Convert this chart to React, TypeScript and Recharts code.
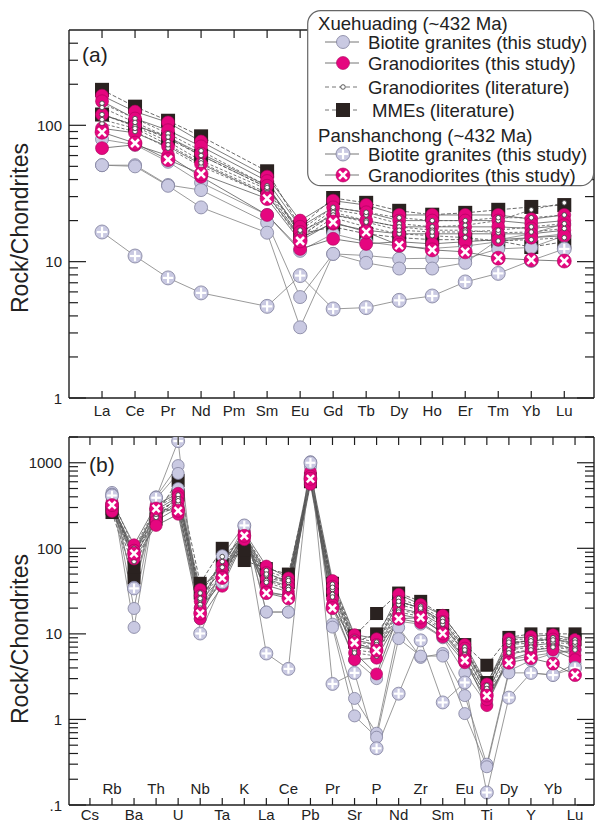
import React from 'react'
import { LineChart, Line, XAxis, YAxis, Legend } from 'recharts'

// ---- categories ----
const REE = ['La', 'Ce', 'Pr', 'Nd', 'Pm', 'Sm', 'Eu', 'Gd', 'Tb', 'Dy', 'Ho', 'Er', 'Tm', 'Yb', 'Lu']
const SPIDER = ['Cs', 'Rb', 'Ba', 'Th', 'U', 'Nb', 'Ta', 'K', 'La', 'Ce', 'Pb', 'Pr', 'Sr', 'P', 'Nd', 'Zr', 'Sm', 'Eu', 'Ti', 'Dy', 'Y', 'Yb', 'Lu']

// ---- (a) chondrite-normalised REE ----
const reeMME = [
  [182, 137, 108, 83, null, 46, 18, 29.3, 27, 23.6, 22.1, 22.8, 24, 25.2, 26],
  [120, 100, 80, 60, null, 35, 16, 18, 16, 15, 14.5, 14.5, 14.2, 12.8, 14],
]
const reeBiotite = [
  [79, 72, 54, 38, null, 22, 12, 16, 14, 13, 12.5, 13, 14, 15, 16],
  [51, 51, 36.5, 33.5, null, 19.3, 5.5, 11.4, 11.1, 10.5, 10.6, 10.5, 12.4, 12.7, 15.5],
  [51, 50, 36, 25, null, 16.3, 3.3, 11.4, 9.8, 8.9, 8.9, 9.8, 14.5, 16, 19],
]
const reeGranodiorite = [
  [165, 126, 105, 76, null, 42, 20, 28, 26, 22, 22, 22, 22, 20.5, 22],
  [150, 112, 92, 70, null, 39, 18, 25, 23, 20, 20, 20, 20, 19, 20],
  [120, 100, 82, 62, null, 36, 16.5, 22, 20, 18, 18, 18, 18, 17.5, 18.5],
  [95, 88, 70, 52, null, 31, 15, 19, 17, 16, 16, 16, 16, 16, 17],
  [68, 72, 60, 42, null, 22, 12.4, 14.7, 13.5, 14, 13.5, 14, 14.5, 15, 15.5],
]
const reeLiterature = [
  [145, 112, 87, 65, null, 36, 16, 24, 22, 19, 18, 18.5, 20, 24, 27],
  [120, 98, 76, 55, null, 34, 15, 23, 20, 18, 17, 17, 16.3, 16.5, 17.5],
  [103, 90, 68, 50, null, 31, 14.5, 21, 18, 16, 15.5, 15, 14.2, 14.5, 15],
  [135, 105, 82, 60, null, 35, 17, 25, 23, 21, 20, 20, 21, 21, 22],
  [110, 95, 72, 53, null, 32, 15.5, 22, 19.5, 17, 16.5, 16.5, 17, 18, 19],
]
const reePsBiotite = [[16.5, 11, 7.6, 5.9, null, 4.7, 7.9, 4.5, 4.6, 5.2, 5.6, 7.1, 8.2, 10.2, 12.4]]
const reePsGranodiorite = [[89, 74, 56, 44, null, 29, 14.2, 19.5, 16.5, 13.2, 12.2, 11.8, 10.6, 10.3, 10.1]]

// ---- (b) trace element spider ----
const spMME = [
  [null, 262, 45, 250, 620, 39, 100, 72, 58, 50, 650, 39, 9.5, 17.3, 30, 24, 16.4, 7.5, 4.3, 9.1, 10, 10, 10],
  [null, 290, 60, 220, 420, 30, 65, 95, 45, 40, 600, 32, 8, 10, 24, 20, 13, 6, 2.7, 7.5, 8.5, 8.5, 8.5],
]
const spBiotite = [
  [null, 400, 35, 300, 500, 20, 50, 160, 30, 28, 700, 20, 5, 3, 14, 13, 9, 3.5, 1.5, 5, 5.5, 6, 6.5],
  [null, 450, 19.8, 400, 927, 18, 82, 185, 18, 18, 1030, 13, 1.76, 0.69, 11.9, 5.3, 5.9, 1.9, 0.3, 3.7, 4.9, 5.9, 6.4],
  [null, 430, 11.9, 380, 750, 15, 60, 180, 18, 18, 900, 12, 1.1, 0.62, 8.8, 5.5, 5.5, 1.17, 0.28, 3.5, 3.5, 3.3, 4.5],
]
const spGranodiorite = [
  [null, 350, 110, 320, 440, 33, 64, 155, 62, 45, 780, 42, 9.8, 8.8, 29, 22, 16.5, 7.5, 2.6, 8.8, 9.3, 9.8, 8.6],
  [null, 320, 95, 280, 400, 28, 55, 145, 52, 40, 700, 36, 8.5, 7.5, 24, 20, 14, 6.8, 2.3, 7.8, 8.3, 8.7, 7.6],
  [null, 300, 88, 240, 350, 24, 47, 140, 44, 36, 640, 31, 7.2, 6.5, 20, 17.5, 12.5, 6, 2, 6.8, 7.3, 7.8, 6.6],
  [null, 280, 80, 210, 300, 20, 40, 132, 37, 31, 600, 26, 6, 3.4, 17, 15, 10.5, 5.2, 1.45, 5.8, 6.4, 6.9, 5.6],
  [null, 270, 75, 185, 250, 15, 36, 126, 31, 28, 560, 22, 5, 5.2, 15, 13.5, 9.2, 4.6, 1.7, 5, 6, 6.5, 5],
]
const spLiterature = [
  [null, 380, 100, 300, 420, 30, 70, 150, 55, 44, 720, 38, 9, 8, 26, 21, 15, 7, 2.5, 8.5, 8.8, 9, 8.5],
  [null, 330, 90, 260, 380, 25, 60, 140, 48, 40, 660, 33, 7.5, 7, 22, 19, 13, 6.3, 2.2, 7.5, 7.8, 8, 7.5],
  [null, 300, 80, 230, 330, 22, 80, 135, 42, 35, 620, 29, 6.5, 6, 19, 17, 11.5, 5.7, 2, 6.5, 7, 7.2, 6.8],
  [null, 350, 70, 270, 360, 26, 50, 145, 50, 42, 680, 35, 8, 7.5, 24, 20, 14, 6.5, 2.3, 8, 8.3, 8.5, 8],
  [null, 310, 85, 250, 300, 20, 45, 130, 40, 33, 600, 27, 6, 5.5, 18, 16, 11, 5.3, 1.8, 6, 6.5, 7, 6.5],
]
const spPsBiotite = [[null, 414, 34, 390, 1790, 10.1, 40, 185, 5.9, 3.9, 1000, 2.6, 3.5, 0.46, 2, 8.4, 1.58, 2.7, 0.14, 1.8, 3.5, 3.3, 4]]
const spPsGranodiorite = [[null, 320, 87, 292, 275, 17.3, 45, 140, 30, 26, 650, 20, 7.9, 6.4, 15, 15.5, 10.1, 4.9, 1.9, 4.6, 5.2, 4.5, 3.3]]

// ---- ticks ----
const reeTicks = [1, 2, 3, 4, 5, 6, 7, 8, 9, 10, 20, 30, 40, 50, 60, 70, 80, 90, 100, 200, 300, 400]
const reeMajors = [1, 10, 100]
const spTicks = [0.1, 0.2, 0.3, 0.4, 0.5, 0.6, 0.7, 0.8, 0.9, 1, 2, 3, 4, 5, 6, 7, 8, 9, 10, 20, 30, 40, 50, 60, 70, 80, 90,
  100, 200, 300, 400, 500, 600, 700, 800, 900, 1000, 2000]
const spMajors = [0.1, 1, 10, 100, 1000]

const FONT = '"Liberation Sans", Arial, sans-serif'
const AX = '#1e1e1e'
const LAV = '#c9c9e2'
const LAV_EDGE = '#7f7f9c'
const MAG = '#e5067f'
const MAG_EDGE = '#a8035b'
const BLACK = '#2a2220'

type Kind = 'mme' | 'bg' | 'gd' | 'lit' | 'psbg' | 'psgd'

const lineStyle: Record<Kind, { stroke: string; dash?: string }> = {
  mme: { stroke: '#444', dash: '4 2' },
  bg: { stroke: '#808080' },
  gd: { stroke: '#5a5a5a' },
  lit: { stroke: '#555', dash: '3 2' },
  psbg: { stroke: '#808080' },
  psgd: { stroke: '#5a5a5a' },
}

function Marker({ kind, cx, cy, r }: { kind: Kind; cx: number; cy: number; r: number }) {
  if (kind === 'mme') {
    const s = r * 2 + 1
    return <rect x={cx - s / 2} y={cy - s / 2} width={s} height={s} fill={BLACK} />
  }
  if (kind === 'lit') return <circle cx={cx} cy={cy} r={2.3} fill="#fff" stroke="#444" strokeWidth={0.9} />
  if (kind === 'bg') return <circle cx={cx} cy={cy} r={r} fill={LAV} stroke={LAV_EDGE} strokeWidth={0.8} />
  if (kind === 'gd') return <circle cx={cx} cy={cy} r={r} fill={MAG} stroke={MAG_EDGE} strokeWidth={0.6} />
  if (kind === 'psbg') {
    const a = r * 0.8
    return (
      <g>
        <circle cx={cx} cy={cy} r={r + 0.5} fill={LAV} stroke={LAV_EDGE} strokeWidth={0.8} />
        <line x1={cx - a} x2={cx + a} y1={cy} y2={cy} stroke="#fff" strokeWidth={2.2} />
        <line x1={cx} x2={cx} y1={cy - a} y2={cy + a} stroke="#fff" strokeWidth={2.2} />
      </g>
    )
  }
  const a = r * 0.6
  return (
    <g>
      <circle cx={cx} cy={cy} r={r + 0.5} fill={MAG} stroke={MAG_EDGE} strokeWidth={0.6} />
      <line x1={cx - a} x2={cx + a} y1={cy - a} y2={cy + a} stroke="#fff" strokeWidth={2.6} />
      <line x1={cx - a} x2={cx + a} y1={cy + a} y2={cy - a} stroke="#fff" strokeWidth={2.6} />
    </g>
  )
}

const toPoints = (vals: (number | null)[]) =>
  vals.map((v, i) => (v == null ? null : { x: i, y: v })).filter((p) => p !== null) as { x: number; y: number }[]

function buildSeries(groups: [Kind, (number | null)[][]][]) {
  const out: { kind: Kind; data: { x: number; y: number }[] }[] = []
  groups.forEach(([kind, rows]) => rows.forEach((row) => out.push({ kind, data: toPoints(row) })))
  return out
}

const reeSeries = buildSeries([
  ['mme', reeMME], ['bg', reeBiotite], ['gd', reeGranodiorite], ['lit', reeLiterature],
  ['psbg', reePsBiotite], ['psgd', reePsGranodiorite],
])
const spSeries = buildSeries([
  ['mme', spMME], ['bg', spBiotite], ['gd', spGranodiorite], ['lit', spLiterature],
  ['psbg', spPsBiotite], ['psgd', spPsGranodiorite],
])

function LeftTick(props: any) {
  const { x, y, payload, majors } = props
  const v = payload.value
  const major = majors.includes(v)
  return (
    <g>
      <line x1={x} x2={x + (major ? 17 : 9)} y1={y} y2={y} stroke={AX} strokeWidth={1.2} />
      {major && (
        <text x={x - 7} y={y + 5.5} textAnchor="end" fontSize={15} fontFamily={FONT} fill="#222">
          {v < 1 ? '.1' : String(v)}
        </text>
      )}
    </g>
  )
}

function RightTick(props: any) {
  const { x, y, payload, majors } = props
  const major = majors.includes(payload.value)
  return <line x1={x} x2={x - (major ? 17 : 9)} y1={y} y2={y} stroke={AX} strokeWidth={1.2} />
}

function TopTick(props: any) {
  const { x, y } = props
  return <line x1={x} x2={x} y1={y} y2={y + 8} stroke={AX} strokeWidth={1.2} />
}

function BottomTick(props: any) {
  const { x, y, payload, cats, alternate } = props
  const i = payload.value
  const up = alternate && i % 2 === 1
  const ty = alternate ? (up ? y - 11 : y + 15) : y + 17.5
  return (
    <g>
      <line x1={x} x2={x} y1={y} y2={y - 7} stroke={AX} strokeWidth={1.2} />
      <text x={x} y={ty} textAnchor="middle" fontSize={15} fontFamily={FONT} fill="#222">
        {cats[i]}
      </text>
    </g>
  )
}

function LegendRow({ y, kind, text, tx = 61 }: { y: number; kind: Kind; text: string; tx?: number }) {
  const dashed = kind === 'lit' || kind === 'mme'
  return (
    <g>
      <line x1={18} x2={52} y1={y} y2={y} stroke="#777" strokeWidth={1} strokeDasharray={dashed ? '4 3' : undefined} />
      <Marker kind={kind} cx={36} cy={y} r={6.5} />
      <text x={tx} y={y + 6.5} fontSize={18.6} fontFamily={FONT} fill="#222">{text}</text>
    </g>
  )
}

function LegendBox() {
  return (
    <svg width={290} height={178} style={{ display: 'block' }}>
      <rect x={0.7} y={0.7} width={286} height={175} rx={13} fill="#fff" stroke="#666" strokeWidth={1.2} />
      <text x={11} y={19.5} fontSize={18.6} fontFamily={FONT} fill="#222">Xuehuading (~432 Ma)</text>
      <LegendRow y={32} kind="bg" text="Biotite granites (this study)" />
      <LegendRow y={53} kind="gd" text="Granodiorites (this study)" />
      <LegendRow y={77} kind="lit" text="Granodiorites (literature)" />
      <LegendRow y={100} kind="mme" text="MMEs (literature)" tx={65} />
      <text x={11} y={131.5} fontSize={18.6} fontFamily={FONT} fill="#222">Panshanchong (~432 Ma)</text>
      <LegendRow y={144} kind="psbg" text="Biotite granites (this study)" />
      <LegendRow y={165} kind="psgd" text="Granodiorites (this study)" />
    </svg>
  )
}

interface PanelProps {
  cats: string[]
  series: { kind: Kind; data: { x: number; y: number }[] }[]
  height: number
  topH: number
  bottomH: number
  xDomain: [number, number]
  yDomain: [number, number]
  yTicks: number[]
  majors: number[]
  r: number
  tag: string
  tagX: number
  tagY: number
  labelY: number
  alternate?: boolean
  legend?: boolean
}

function Panel(p: PanelProps) {
  const catTicks = p.cats.map((_, i) => i)
  return (
    <LineChart width={595} height={p.height} margin={{ top: 0, right: 0, bottom: 0, left: 0 }} style={{ overflow: 'visible' }}>
      <XAxis
        xAxisId="b" type="number" dataKey="x" domain={p.xDomain} allowDataOverflow ticks={catTicks} interval={0}
        height={p.bottomH} tickSize={0} tickMargin={0} tickLine={false}
        axisLine={{ stroke: AX, strokeWidth: 1.4 }}
        tick={(t: any) => <BottomTick {...t} cats={p.cats} alternate={p.alternate} />}
      />
      <XAxis
        xAxisId="t" orientation="top" type="number" dataKey="x" domain={p.xDomain} allowDataOverflow ticks={catTicks} interval={0}
        height={p.topH} tickSize={0} tickMargin={0} tickLine={false}
        axisLine={{ stroke: AX, strokeWidth: 1.4 }}
        tick={(t: any) => <TopTick {...t} />}
        label={() => (
          <text x={p.tagX} y={p.tagY} fontSize={21} fontFamily={FONT} fill="#222">{p.tag}</text>
        )}
      />
      <YAxis
        yAxisId="l" type="number" scale="log" domain={p.yDomain} allowDataOverflow ticks={p.yTicks} interval={0}
        width={69} tickSize={0} tickMargin={0} tickLine={false}
        axisLine={{ stroke: AX, strokeWidth: 1.4 }}
        tick={(t: any) => <LeftTick {...t} majors={p.majors} />}
        label={() => (
          <text transform={`translate(28,${p.labelY}) rotate(-90)`} textAnchor="middle" fontSize={23} fontFamily={FONT} fill="#222">
            Rock/Chondrites
          </text>
        )}
      />
      <YAxis
        yAxisId="r" orientation="right" type="number" scale="log" domain={p.yDomain} allowDataOverflow ticks={p.yTicks} interval={0}
        width={1} tickSize={0} tickMargin={0} tickLine={false}
        axisLine={{ stroke: AX, strokeWidth: 1.4 }}
        tick={(t: any) => <RightTick {...t} majors={p.majors} />}
      />
      {p.series.map((s, i) => (
        <Line
          key={i}
          data={s.data}
          dataKey="y"
          xAxisId="b"
          yAxisId="l"
          stroke={lineStyle[s.kind].stroke}
          strokeDasharray={lineStyle[s.kind].dash}
          strokeWidth={0.8}
          isAnimationActive={false}
          dot={(d: any) => <Marker key={`${i}-${d.index}`} kind={s.kind} cx={d.cx} cy={d.cy} r={p.r} />}
          activeDot={false}
        />
      ))}
      {p.legend && (
        <Legend
          layout="vertical" align="center" verticalAlign="middle"
          wrapperStyle={{ left: 307, top: 10, width: 290, height: 178 }}
          content={() => <LegendBox />}
        />
      )}
    </LineChart>
  )
}

export default function App() {
  return (
    <div style={{ position: 'absolute', left: 0, top: 0, width: 595, height: 823, background: '#fff', overflow: 'hidden' }}>
      <div style={{ position: 'absolute', left: 0, top: 0 }}>
        <Panel
          cats={REE} series={reeSeries} height={420} topH={30} bottomH={22}
          xDomain={[-1, 14.9]} yDomain={[1, 500]} yTicks={reeTicks} majors={reeMajors} r={6.5}
          tag="(a)" tagX={82} tagY={62} labelY={228} legend
        />
      </div>
      <div style={{ position: 'absolute', left: 0, top: 420 }}>
        <Panel
          cats={SPIDER} series={spSeries} height={403} topH={17} bottomH={18}
          xDomain={[-0.95, 22.86]} yDomain={[0.1, 2000]} yTicks={spTicks} majors={spMajors} r={6}
          tag="(b)" tagX={89} tagY={52} labelY={219} alternate
        />
      </div>
    </div>
  )
}
